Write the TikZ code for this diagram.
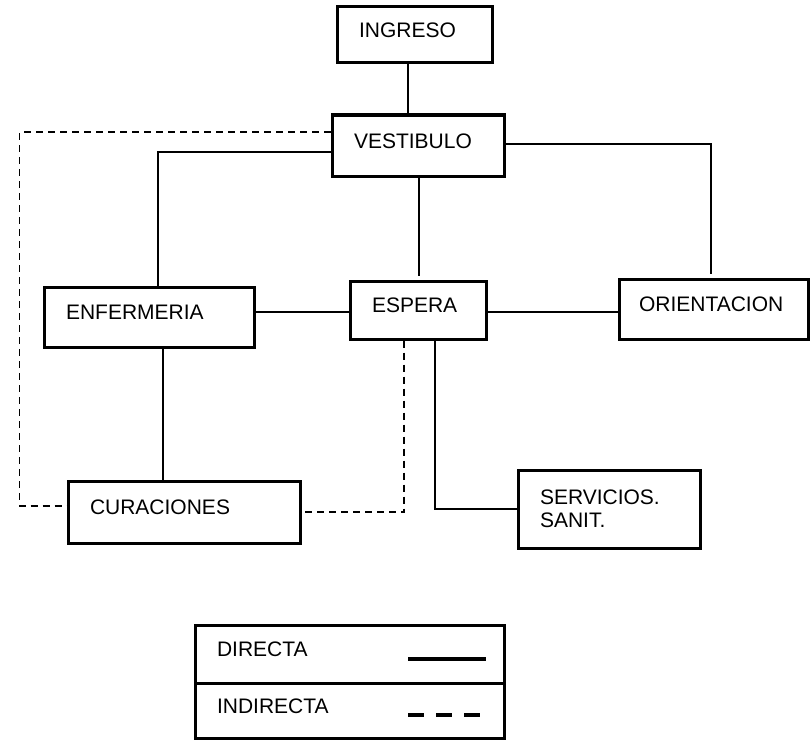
\documentclass[tikz,border=0pt]{standalone}
\usepackage{fontspec}
\setmainfont{Liberation Sans}
\usepackage{tikz}
\usetikzlibrary{calc}
\tikzset{
  room/.style={draw, line width=3pt, align=left, inner xsep=22pt, inner ysep=0pt,
    font=\fontsize{21}{23}\selectfont},
  oneline/.style={text height=15pt, text depth=10pt},
  directa/.style={line width=1.3pt},
  indirecta/.style={line width=1.3pt, dash pattern=on 7pt off 5pt}
}

\begin{document}
\begin{tikzpicture}[x=1pt, y=-1pt]
\useasboundingbox (0,0) rectangle (810,741);
\node[room, oneline, text width=111pt, minimum height=56pt] (ingreso) at (414.5,35) {INGRESO};
\node[room, oneline, text width=128pt, minimum height=61pt] (vestibulo) at (418,145.5) {VESTIBULO};
\node[room, oneline, text width=166pt, minimum height=60pt] (enfermeria) at (149,317) {ENFERMERIA};
\node[room, oneline, text width=92pt, minimum height=58pt] (espera) at (418,310) {ESPERA};
\node[room, oneline, inner xsep=20pt, text width=149pt, minimum height=60pt] (orientacion) at (713.5,309) {ORIENTACION};
\node[room, oneline, text width=188pt, minimum height=62pt] (curaciones) at (184,512) {CURACIONES};
\node[room, text width=138pt, minimum height=78pt] (servicios) at (609,509) {SERVICIOS.\\SANIT.};
\draw[directa] ([xshift=-6.5pt]ingreso.south) -- ([xshift=-6.5pt]ingreso.south |- vestibulo.north);
\draw[directa] ([yshift=-6.5pt]vestibulo.west) -| ([xshift=9pt]enfermeria.north);
\draw[directa] ([yshift=1.5pt]vestibulo.east) -| ([xshift=-2.5pt,yshift=4pt]orientacion.north);
\draw[directa] ([xshift=1pt]vestibulo.south) -- ([xshift=1pt,yshift=4pt]espera.north);
\draw[directa] ([yshift=5pt]enfermeria.east) -- ([yshift=5pt]enfermeria.east -| espera.west);
\draw[directa] ([yshift=-2pt]espera.east) -- ([yshift=-2pt]espera.east -| orientacion.west);
\draw[directa] ([xshift=14pt]enfermeria.south) -- ([xshift=14pt]enfermeria.south |- curaciones.north);
\draw[directa] ([xshift=17pt]espera.south) |- (servicios.west);
\draw[indirecta] ([xshift=-14pt]espera.south) |- (curaciones.east);
\draw[indirecta] ([yshift=13.5pt]vestibulo.west) -- ++(-311,0) |- ([yshift=6pt]curaciones.west);
% leyenda
\node[room, oneline, text width=265pt, minimum height=58pt] (dir) at (349.5,654) {DIRECTA};
\node[room, oneline, text width=265pt, minimum height=55pt] (ind) at (349.5,710.5) {INDIRECTA};
\draw[directa, line width=3.5pt] ([shift={(58.5pt,-5pt)}]dir.center) -- ++(78,0);
\draw[line width=3.5pt, dash pattern=on 16pt off 12pt] ([shift={(58.5pt,-4.5pt)}]ind.center) -- ++(72,0);
\end{tikzpicture}
\end{document}
